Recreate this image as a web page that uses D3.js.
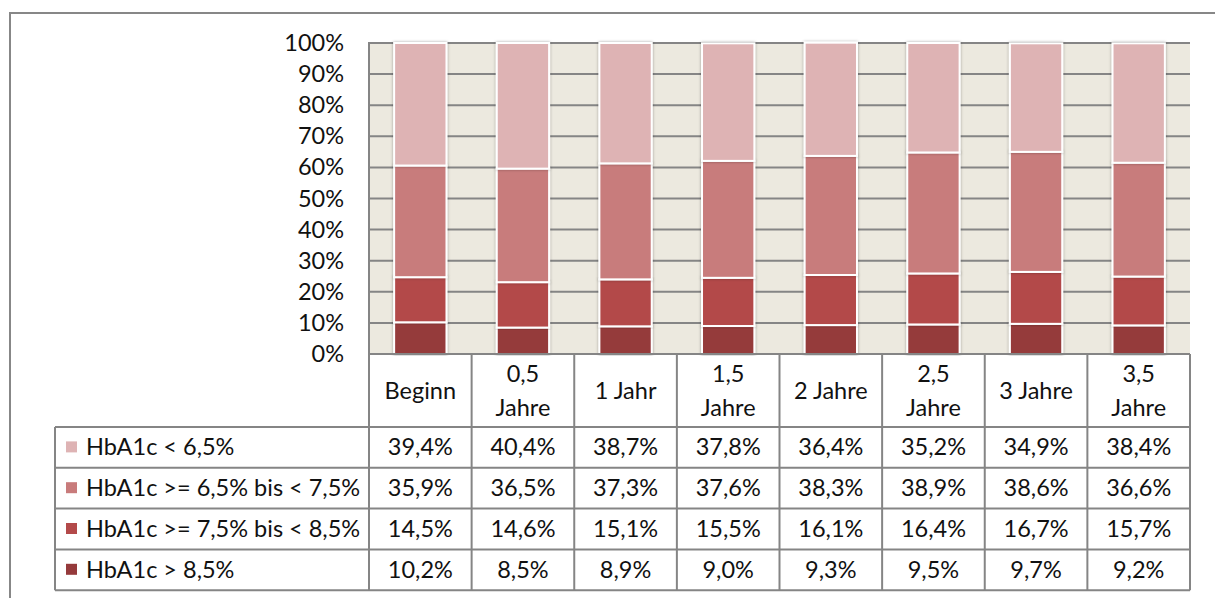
<!DOCTYPE html>
<html>
<head>
<meta charset="utf-8">
<script src="https://cdn.jsdelivr.net/npm/d3@7"></script>
<style>
  body { margin: 0; background: #fff; }
  text { font-family: Lato, "Liberation Sans", sans-serif; fill: #111; }
</style>
</head>
<body>
<svg id="chart" width="1215" height="598"></svg>
<script>
// categories (x) and the four HbA1c bands, values in percent
var categories = ['Beginn', '0,5 Jahre', '1 Jahr', '1,5 Jahre', '2 Jahre', '2,5 Jahre', '3 Jahre', '3,5 Jahre'];
var catLines = [['Beginn'], ['0,5', 'Jahre'], ['1 Jahr'], ['1,5', 'Jahre'], ['2 Jahre'], ['2,5', 'Jahre'], ['3 Jahre'], ['3,5', 'Jahre']];
var seriesNames = ['HbA1c < 6,5%', 'HbA1c >= 6,5% bis < 7,5%', 'HbA1c >= 7,5% bis < 8,5%', 'HbA1c > 8,5%'];
var below65 = [39.4, 40.4, 38.7, 37.8, 36.4, 35.2, 34.9, 38.4];
var from65to75 = [35.9, 36.5, 37.3, 37.6, 38.3, 38.9, 38.6, 36.6];
var from75to85 = [14.5, 14.6, 15.1, 15.5, 16.1, 16.4, 16.7, 15.7];
var above85 = [10.2, 8.5, 8.9, 9.0, 9.3, 9.5, 9.7, 9.2];
var yTicks = [0, 10, 20, 30, 40, 50, 60, 70, 80, 90, 100];

var seriesVals = [below65, from65to75, from75to85, above85];
var colors = ['#deb3b4', '#c87b7b', '#b34a4a', '#953a3b'];

var svg = d3.select('#chart');
var gridCol = '#858585';
var fs = '23.5px';

var plot = {left: 369, right: 1190, top: 43, bottom: 354};

var x = d3.scaleBand().domain(categories).range([plot.left, plot.right]).paddingInner(0).paddingOuter(0);
var y = d3.scaleLinear().domain([0, 100]).range([plot.bottom, plot.top]);

// shadow filter for bars
var defs = svg.append('defs');
var f = defs.append('filter').attr('id', 'shadow').attr('x', '-20%').attr('y', '-5%').attr('width', '140%').attr('height', '110%');
f.append('feDropShadow').attr('dx', 0).attr('dy', 0).attr('stdDeviation', 1.6).attr('flood-color', '#000').attr('flood-opacity', 0.35);

// outer frame
svg.append('rect')
  .attr('x', 10).attr('y', 13)
  .attr('width', 1220).attr('height', 600)
  .attr('fill', 'none')
  .attr('stroke', '#878787').attr('stroke-width', 2);

// plot background
svg.append('rect')
  .attr('x', plot.left).attr('y', plot.top)
  .attr('width', plot.right - plot.left).attr('height', plot.bottom - plot.top)
  .attr('fill', '#ece9df');

// gridlines
svg.append('g').selectAll('line')
  .data(yTicks)
  .join('line')
  .attr('x1', plot.left).attr('x2', plot.right)
  .attr('y1', d => y(d)).attr('y2', d => y(d))
  .attr('stroke', gridCol).attr('stroke-width', 2);

// y axis labels
svg.append('g').selectAll('text')
  .data(yTicks)
  .join('text')
  .attr('x', 344).attr('y', d => y(d) + 8)
  .attr('text-anchor', 'end')
  .style('font-size', fs)
  .text(d => d + '%');

svg.append('line')
  .attr('x1', plot.left).attr('x2', plot.left)
  .attr('y1', plot.top - 1).attr('y2', plot.bottom)
  .attr('stroke', gridCol).attr('stroke-width', 2);

// stacked bars
var rows = categories.map(function(c, i) {
  return {cat: c, s0: above85[i], s1: from75to85[i], s2: from65to75[i], s3: below65[i]};
});
var stack = d3.stack().keys(['s0', 's1', 's2', 's3']);
var layers = stack(rows);
var barW = x.bandwidth() * 0.51;

svg.append('g').selectAll('g')
  .data(layers)
  .join('g')
  .attr('fill', (d, i) => colors[3 - i])
  .selectAll('rect')
  .data(d => d)
  .join('rect')
  .attr('x', d => x(d.data.cat) + (x.bandwidth() - barW) / 2)
  .attr('y', d => y(d[1]))
  .attr('width', barW)
  .attr('height', d => y(d[0]) - y(d[1]))
  .attr('stroke', '#fff').attr('stroke-width', 2)
  .attr('filter', 'url(#shadow)');

// data table
var tableLeft = 55;
var headerBottom = 427;
var rowH = 40.8;
var tableBottom = headerBottom + rowH * 4;
var tg = svg.append('g');

// horizontal lines
tg.append('line').attr('x1', plot.left).attr('x2', plot.right).attr('y1', plot.bottom).attr('y2', plot.bottom)
  .attr('stroke', gridCol).attr('stroke-width', 2);
d3.range(5).forEach(function(k) {
  tg.append('line')
    .attr('x1', tableLeft).attr('x2', plot.right)
    .attr('y1', headerBottom + k * rowH).attr('y2', headerBottom + k * rowH)
    .attr('stroke', gridCol).attr('stroke-width', 2);
});
// vertical lines
tg.append('line').attr('x1', tableLeft).attr('x2', tableLeft)
  .attr('y1', headerBottom).attr('y2', tableBottom)
  .attr('stroke', gridCol).attr('stroke-width', 2);
categories.forEach(function(c) {
  tg.append('line').attr('x1', x(c)).attr('x2', x(c))
    .attr('y1', plot.bottom).attr('y2', tableBottom)
    .attr('stroke', gridCol).attr('stroke-width', 2);
});
tg.append('line').attr('x1', plot.right).attr('x2', plot.right)
  .attr('y1', plot.bottom).attr('y2', tableBottom)
  .attr('stroke', gridCol).attr('stroke-width', 2);

// header labels
categories.forEach(function(c, i) {
  var lines = catLines[i];
  var cx = x(c) + x.bandwidth() / 2;
  var cy = (plot.bottom + headerBottom) / 2;
  lines.forEach(function(l, j) {
    tg.append('text')
      .attr('x', cx)
      .attr('y', cy + 8 + (j - (lines.length - 1) / 2) * 34)
      .attr('text-anchor', 'middle')
      .style('font-size', fs)
      .text(l);
  });
});

// rows: legend key + values
seriesNames.forEach(function(name, r) {
  var cy = headerBottom + r * rowH + rowH / 2;
  tg.append('rect')
    .attr('x', 66).attr('y', cy - 6)
    .attr('width', 11).attr('height', 11)
    .attr('fill', colors[r]);
  tg.append('text')
    .attr('x', 86).attr('y', cy + 8)
    .style('font-size', fs)
    .text(name);
  seriesVals[r].forEach(function(v, i) {
    tg.append('text')
      .attr('x', x(categories[i]) + x.bandwidth() / 2)
      .attr('y', cy + 8)
      .attr('text-anchor', 'middle')
      .style('font-size', fs)
      .text(v.toFixed(1).replace('.', ',') + '%');
  });
});
</script>
</body>
</html>
